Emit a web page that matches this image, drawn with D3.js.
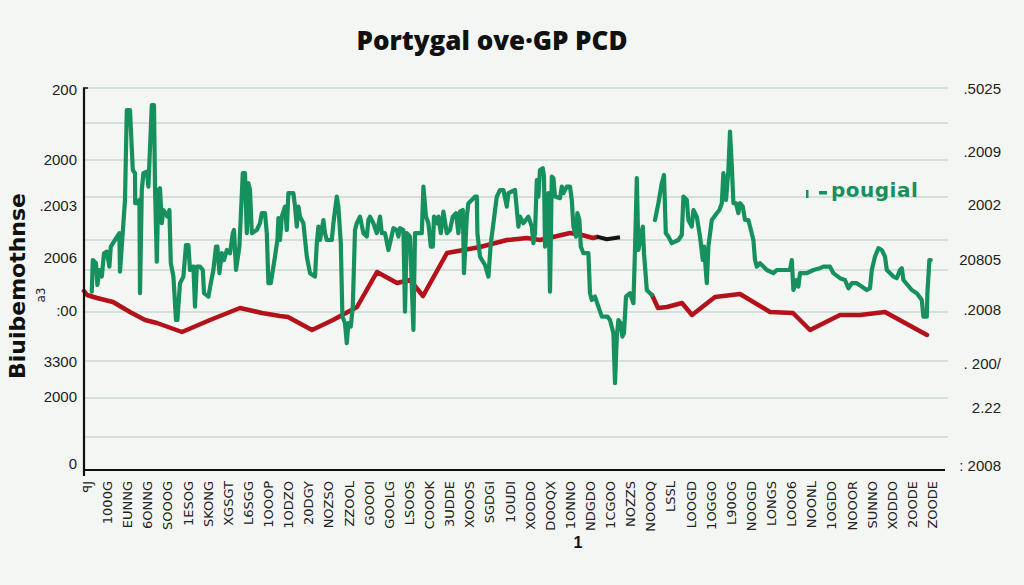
<!DOCTYPE html>
<html>
<head>
<meta charset="utf-8">
<script src="https://cdn.jsdelivr.net/npm/d3@7"></script>
<style>
  html, body { margin: 0; padding: 0; background: #f3f6f3; }
  svg { display: block; }
</style>
</head>
<body>
<svg id="chart" width="1024" height="585"></svg>
<script>
// ---------- DATA ----------
const title = "Portygal ove\u00b7GP PCD";
const yTitle = "Biuibemothnse";
const yTitleSub = "a3";
const legendLabel = "pougial";
const bottomNote = "1";

const gridValues = [191, 173.5, 155, 136.5, 115, 100, 79, 54.5, 36, 16.5];

const leftTickValues = [190, 155, 132, 106, 79.5, 54, 36.5, 3];
const leftTickLabels = ["200", "2000", ".2003", "2006", ":00", "3300", "2000", "0"];

const rightTickValues = [190.5, 159, 132.5, 105, 80, 53, 31, 2];
const rightTickLabels = [".5025", ".2009", "2002", "20805", ".2008", ". 200/", "2.22", ": 2008"];

const xLabels = ["\ua7fcJ","1000G","EUNNG","6ONNG","SOOOG","1ESOG","SKONG","XGSGT","L6SGG","1OOOP",
  "1ODZO","20DGY","NOZSO","ZZOOL","GOOOI","GOOLG","LSOOS","COOOK","3UDDE","XOOOS",
  "SGDGI","1OUDI","XOODO","DOOQX","1ONNO","NDGDO","1CGOO","NOZZS","NOOOQ","LSSL",
  "LOOGD","1OGGO","L90OG","NOOGD","LONGS","LOOO6","NOONL","1OGDO","NOOOR","SUNNO",
  "XODDO","2OODE","ZOODE"];

// green series (period, value); null marks a gap
const greenT = [3.9,4.4,6,6.7,7.7,8.9,10,11.4,12.7,13.4,15.5,17.7,18,20.5,21.4,23,24.4,25.5,25.6,26.7,
  27.7,28,28.9,29.7,31.4,32.2,33.9,35,35.5,36.4,37.2,38,38.9,39.7,41.7,42.7,43.4,44.7,46,46.7,
  48,49.7,51,52.2,53,54.7,55.5,56.4,58,59.4,60,62.2,63.4,64.7,66,66.7,67.7,68.9,70,71.4,
  73,74.4,75,76,77.7,79.4,80.5,81.4,82.2,83,83.9,86.4,88,88.9,90.5,91.4,92.2,93.4,93.9,95.5,
  96.7,97.2,98,98.9,100.5,101.4,102.2,104.7,105.5,106.4,107.2,108,109.7,111.4,113,115.5,116.4,117.2,118,119.7,
  120.5,121.4,123.9,124.7,126.4,127.2,128.4,129.2,130.5,131.4,132.2,133.4,134.4,135.5,136.4,138,139.7,141.4,142.2,143,
  144.7,146.4,148,148.9,150.5,152.2,153,154.7,156.4,157.2,158,159.7,160.5,161.4,163,164.7,165.5,168.9,169.7,171,
  172.2,173.4,174.4,175,176.4,177.2,178.4,179.7,181.4,183,184.4,186,187.2,188,189.4,190,191.4,192.2,193.9,195.5,
  196.4,196.7,198,200.5,202.2,203.4,204.7,206.4,208,209.7,211.4,212.2,215.5,217.2,218,219.7,222.2,223.9,224.7,225.5,
  226.4,227.2,228,229.4,230,230.5,231.7,232.2,233,233.9,234.7,235.5,238,238.9,239.7,241.4,243,243.9,244.7,246,
  246.7,247.7,248.4,249.7,252.2,253,253.9,255.5,257.2,258.9,261.7,263,264.7,265.5,266.4,267.2,268.4,269.2,270,271,
  273,274.7,275.5,276.4,277.2,278.4,279.4,280,281.4,283.9,284.7,285.5,287.2,288.9,290,290.9,292.2,293.9,297.2,298.9,
  299.7,301.4,302.2,303.9,304.7,306.4,308,309.4,310,311.4,312.2,313.9,316.4,317.7,318.9,319.7,321,322.2,323,324,
  324.7,326,327.2,328,329.4,330.5,332.2,334.7,335.5,336.4,338,339.7,341.4,344.7,346.4,353,353.9,354.7,356.4,357.2,
  358,361.4,364.7,368,369.7,373,374.7,378,380.5,382.2,383.9,386.4,391.4,393,393.9,395.5,397.2,398.9,400.5,401.4,
  404.7,406.4,408,408.9,409.7,413.9,416.4,418.9,419.7,421.4,421.7,422.7,423.4];
const greenV = [89.2,105,103.4,92.5,100,96.7,108.4,109.2,101.7,111.7,115,118.4,99.2,135,180,180,150,148.4,133.4,133.4,
  135,88.4,140,148.4,149.2,141.7,182.5,182.5,141.7,104.2,140,140.9,123.4,130,126.7,130,103.4,96.7,75,75,
  93.4,96.7,112.5,112.5,100,101.7,81.7,101.7,101.7,100,88.4,86.7,93.4,100,111.7,111.7,98.4,108.4,105,110,
  108.4,118.4,120,100,111.7,148.4,148.4,118.4,143.4,140,118.4,120,123.4,128.4,128.4,118.4,93.4,93.4,96.7,106.7,
  115,125.9,115,126.7,131.7,120,138.4,138.4,131.7,121.7,131.7,126.7,123.4,106.7,98.4,96.7,113.4,121.7,115,125,
  118.4,115,115,123.4,136.7,131.7,113.4,76.7,73.4,63.4,73.4,71.7,81.7,120,123.4,126.7,118.4,116.7,125,126.7,
  123.4,118.4,126.7,118.4,118.4,110,113.4,120.9,120,116.7,120.9,120,79.2,118.4,116.7,70,118.4,118.4,141.7,126.7,
  123.4,111.7,111.7,126.7,123.4,126.7,118.4,129.2,118.4,120,126.7,128.4,118.4,129.2,130,98.4,126.7,133.4,135,136.7,
  136.7,118.4,106.7,102.5,96.7,113.4,123.4,136.7,140,140,131.7,138.4,140,121.7,126.7,123.4,126.7,121.7,113.4,118.4,
  145,136.7,150,150.9,146.7,111.7,128.4,138.4,89.2,146.7,145.9,136.7,135.9,141.7,138.4,141.7,141.7,135,121.7,116.7,
  128.4,125,111.7,108.4,108.4,88.4,85,86.7,81.7,76.7,76.7,75,68.4,43.4,66.7,75,73.4,66.7,68.4,86.7,
  88.4,83.4,110,145.9,110,116.7,121.7,108.4,90,87.5,null,125,133.4,143.4,147.5,118.4,116.7,113.4,115,117.5,
  136.7,135,125,121.7,130,126.7,116.7,105,111.7,93.4,111.7,125,128.4,130,133.4,148.4,135,150,169.2,150,
  133.4,133.4,128.4,133.4,131.7,125,125,115,105,101.7,103.4,101.7,100,98.4,100,100,105,90,95,91.7,
  98.4,98.4,100,100.9,101.7,101.7,98.4,95.9,95,90.9,93.4,93.4,90,90.9,100,106.7,110.9,110,106.7,100,
  96.7,95.9,100,100.9,95,90,88.4,85,76.7,76.7,88.4,105,105];

// red series, two pieces with a dark joining piece
const redT1 = [0,1.5,6.5,14.5,23,30.5,36.5,49,63,78,89,98,102,114,124.5,136.5,146.5,156.5,163,169.5,
  181.5,198,211.5,221.5,228,234.5,243,249,254.5,256.5];
const redV1 = [89.5,87.5,86,84,79,75,73.5,69,75,81,78.5,77,76.5,70,75,81.5,99,93.5,95,87,
  108.5,111.5,115,116,115,116.5,118.5,117.5,116,116.5];
const darkT = [256.4,261.4,268];
const darkV = [116.7,115.4,116.4];
const redT2 = [284,287,291.5,299,304,315.5,328,343,354.5,363,378,388,400.5,421.5];
const redV2 = [87.5,81,81.5,83.5,77.5,86.5,88,79,78.5,70,77.5,77.5,79,67.5];

// ---------- CHART ----------
const svg = d3.select("#chart");
const W = 1024, H = 585;
svg.append("rect").attr("width", W).attr("height", H).attr("fill", "#f3f6f3");

const x = d3.scaleLinear().domain([0, 430]).range([84, 944]);
const y = d3.scaleLinear().domain([0, 191]).range([470, 88]);

// gridlines
svg.append("g").selectAll("line").data(gridValues).join("line")
  .attr("x1", x(0)).attr("x2", x(432))
  .attr("y1", d => y(d)).attr("y2", d => y(d))
  .attr("stroke", "#cbd8d2").attr("stroke-width", 1.5);

// lines
const pts = (T, V) => T.map((t, i) => [t, V[i]]);
const line = d3.line().defined(d => d[1] !== null).x(d => x(d[0])).y(d => y(d[1]));

svg.append("path").datum(pts(redT1, redV1)).attr("d", line)
  .attr("fill", "none").attr("stroke", "#b3121a").attr("stroke-width", 4.5)
  .attr("stroke-linejoin", "round").attr("stroke-linecap", "round");
svg.append("path").datum(pts(redT2, redV2)).attr("d", line)
  .attr("fill", "none").attr("stroke", "#b3121a").attr("stroke-width", 4.5)
  .attr("stroke-linejoin", "round").attr("stroke-linecap", "round");
svg.append("path").datum(pts(darkT, darkV)).attr("d", line)
  .attr("fill", "none").attr("stroke", "#151515").attr("stroke-width", 4)
  .attr("stroke-linejoin", "round");
svg.append("path").datum(pts(greenT, greenV)).attr("d", line)
  .attr("fill", "none").attr("stroke", "#16915d").attr("stroke-width", 4.2)
  .attr("stroke-linejoin", "round").attr("stroke-linecap", "round");

// axes lines
svg.append("line").attr("x1", x(0)).attr("x2", x(0)).attr("y1", y(191)).attr("y2", y(0) + 6)
  .attr("stroke", "#111").attr("stroke-width", 2.2);
svg.append("line").attr("x1", x(0) - 1).attr("x2", x(0) + 4).attr("y1", y(191)).attr("y2", y(191))
  .attr("stroke", "#111").attr("stroke-width", 1.5);
svg.append("line").attr("x1", x(0)).attr("x2", x(430.5)).attr("y1", y(0)).attr("y2", y(0))
  .attr("stroke", "#111").attr("stroke-width", 2.2);

// left tick labels
svg.append("g").selectAll("text").data(leftTickValues).join("text")
  .attr("x", 77).attr("y", d => y(d)).attr("dy", "0.35em")
  .attr("text-anchor", "end")
  .attr("font-family", "Liberation Sans, Arial, sans-serif").attr("font-size", 15)
  .attr("fill", "#222").text((d, i) => leftTickLabels[i]);

// right tick labels
svg.append("g").selectAll("text").data(rightTickValues).join("text")
  .attr("x", 1001).attr("y", d => y(d)).attr("dy", "0.35em")
  .attr("text-anchor", "end")
  .attr("font-family", "Liberation Sans, Arial, sans-serif").attr("font-size", 15)
  .attr("fill", "#222").text((d, i) => rightTickLabels[i]);

// x labels
const xl = d3.scaleLinear().domain([0, xLabels.length - 1]).range([x(1.5), x(424)]);
svg.append("g").selectAll("text").data(xLabels).join("text")
  .attr("transform", (d, i) => `translate(${xl(i) + 5},481) rotate(-90)`)
  .attr("text-anchor", "end")
  .attr("font-family", "DejaVu Sans, sans-serif").attr("font-size", 13)
  .attr("fill", "#222").text(d => d);

// title
svg.append("text").attr("x", 492).attr("y", 50).attr("text-anchor", "middle")
  .attr("font-family", "Open Sans, sans-serif").attr("font-weight", 800).attr("font-size", 26)
  .attr("fill", "#111").text(title);

// y title
svg.append("text").attr("transform", "translate(25,286) rotate(-90)")
  .attr("text-anchor", "middle")
  .attr("font-family", "DejaVu Sans, sans-serif").attr("font-weight", 700).attr("font-size", 22)
  .attr("fill", "#111").text(yTitle);
svg.append("text").attr("transform", "translate(45,295) rotate(-90)")
  .attr("text-anchor", "middle")
  .attr("font-family", "DejaVu Sans, sans-serif").attr("font-size", 12)
  .attr("fill", "#222").text(yTitleSub);

// legend
const lg = svg.append("g").attr("transform", "translate(806,197)");
lg.append("rect").attr("x", 0).attr("y", -7).attr("width", 2.5).attr("height", 8).attr("fill", "#16915d");
lg.append("rect").attr("x", 13).attr("y", -6).attr("width", 8).attr("height", 3.5).attr("fill", "#16915d");
lg.append("text").attr("x", 25).attr("y", 0)
  .attr("font-family", "DejaVu Sans, sans-serif").attr("font-weight", 700).attr("font-size", 20)
  .attr("letter-spacing", 0.5).attr("fill", "#16915d").text(legendLabel);

// bottom note
svg.append("text").attr("x", 578).attr("y", 548).attr("text-anchor", "middle")
  .attr("font-family", "Liberation Sans, Arial, sans-serif").attr("font-weight", 700).attr("font-size", 16)
  .attr("fill", "#111").text(bottomNote);
</script>
</body>
</html>
